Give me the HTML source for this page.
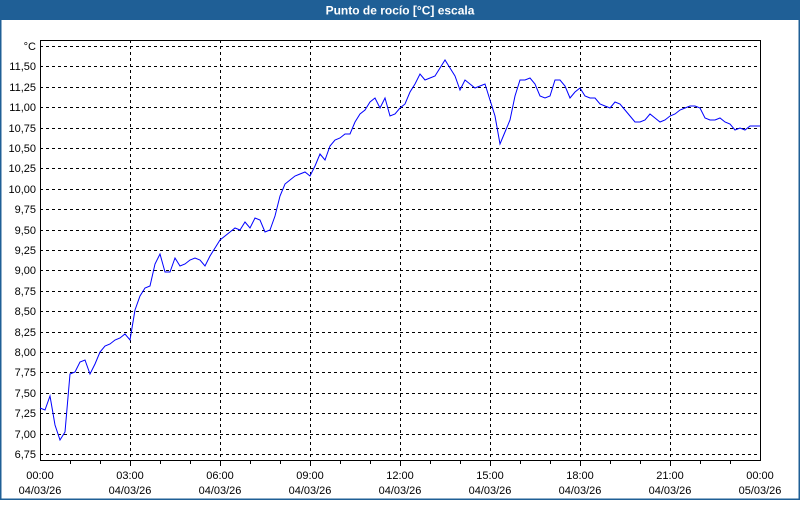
<!DOCTYPE html>
<html><head><style>
body{margin:0;width:800px;height:500px;overflow:hidden;background:#fff;font-family:"Liberation Sans","DejaVu Sans",sans-serif}
</style></head><body>
<svg width="800" height="500" xmlns="http://www.w3.org/2000/svg" font-family="Liberation Sans, DejaVu Sans, sans-serif" font-size="11">
<rect x="0" y="0" width="800" height="500" fill="#fff"/>
<rect x="0" y="0" width="800" height="20" fill="#1f5f96"/>
<rect x="0" y="0" width="1.5" height="500" fill="#1f5f96"/>
<rect x="798.5" y="0" width="1.5" height="500" fill="#1f5f96"/>
<rect x="0" y="498.5" width="800" height="1.5" fill="#1f5f96"/>
<text x="400" y="14.5" fill="#fff" font-weight="bold" font-size="12" text-anchor="middle">Punto de rocío [°C] escala</text>
<g stroke="#000" stroke-dasharray="3,3" stroke-width="1">
<line x1="40" y1="46.5" x2="760" y2="46.5"/>
<line x1="40" y1="66.5" x2="760" y2="66.5"/>
<line x1="40" y1="87.5" x2="760" y2="87.5"/>
<line x1="40" y1="107.5" x2="760" y2="107.5"/>
<line x1="40" y1="128.5" x2="760" y2="128.5"/>
<line x1="40" y1="148.5" x2="760" y2="148.5"/>
<line x1="40" y1="168.5" x2="760" y2="168.5"/>
<line x1="40" y1="189.5" x2="760" y2="189.5"/>
<line x1="40" y1="209.5" x2="760" y2="209.5"/>
<line x1="40" y1="230.5" x2="760" y2="230.5"/>
<line x1="40" y1="250.5" x2="760" y2="250.5"/>
<line x1="40" y1="270.5" x2="760" y2="270.5"/>
<line x1="40" y1="291.5" x2="760" y2="291.5"/>
<line x1="40" y1="311.5" x2="760" y2="311.5"/>
<line x1="40" y1="332.5" x2="760" y2="332.5"/>
<line x1="40" y1="352.5" x2="760" y2="352.5"/>
<line x1="40" y1="372.5" x2="760" y2="372.5"/>
<line x1="40" y1="393.5" x2="760" y2="393.5"/>
<line x1="40" y1="413.5" x2="760" y2="413.5"/>
<line x1="40" y1="434.5" x2="760" y2="434.5"/>
<line x1="40" y1="454.5" x2="760" y2="454.5"/>
<line x1="130.5" y1="40" x2="130.5" y2="460"/>
<line x1="220.5" y1="40" x2="220.5" y2="460"/>
<line x1="310.5" y1="40" x2="310.5" y2="460"/>
<line x1="400.5" y1="40" x2="400.5" y2="460"/>
<line x1="490.5" y1="40" x2="490.5" y2="460"/>
<line x1="580.5" y1="40" x2="580.5" y2="460"/>
<line x1="670.5" y1="40" x2="670.5" y2="460"/>
</g>
<rect x="40.5" y="40.5" width="720" height="420" fill="none" stroke="#000"/>
<g stroke="#000">
<line x1="70.5" y1="460" x2="70.5" y2="464"/><line x1="100.5" y1="460" x2="100.5" y2="464"/><line x1="130.5" y1="460" x2="130.5" y2="466"/>
<line x1="160.5" y1="460" x2="160.5" y2="464"/><line x1="190.5" y1="460" x2="190.5" y2="464"/><line x1="220.5" y1="460" x2="220.5" y2="466"/>
<line x1="250.5" y1="460" x2="250.5" y2="464"/><line x1="280.5" y1="460" x2="280.5" y2="464"/><line x1="310.5" y1="460" x2="310.5" y2="466"/>
<line x1="340.5" y1="460" x2="340.5" y2="464"/><line x1="370.5" y1="460" x2="370.5" y2="464"/><line x1="400.5" y1="460" x2="400.5" y2="466"/>
<line x1="430.5" y1="460" x2="430.5" y2="464"/><line x1="460.5" y1="460" x2="460.5" y2="464"/><line x1="490.5" y1="460" x2="490.5" y2="466"/>
<line x1="520.5" y1="460" x2="520.5" y2="464"/><line x1="550.5" y1="460" x2="550.5" y2="464"/><line x1="580.5" y1="460" x2="580.5" y2="466"/>
<line x1="610.5" y1="460" x2="610.5" y2="464"/><line x1="640.5" y1="460" x2="640.5" y2="464"/><line x1="670.5" y1="460" x2="670.5" y2="466"/>
<line x1="700.5" y1="460" x2="700.5" y2="464"/><line x1="730.5" y1="460" x2="730.5" y2="464"/>
</g>
<g text-anchor="end" fill="#000">
<text x="36" y="50">°C</text>
<text x="36" y="70">11,50</text><text x="36" y="91">11,25</text><text x="36" y="111">11,00</text><text x="36" y="132">10,75</text>
<text x="36" y="152">10,50</text><text x="36" y="172">10,25</text><text x="36" y="193">10,00</text><text x="36" y="213">9,75</text>
<text x="36" y="234">9,50</text><text x="36" y="254">9,25</text><text x="36" y="274">9,00</text><text x="36" y="295">8,75</text>
<text x="36" y="315">8,50</text><text x="36" y="336">8,25</text><text x="36" y="356">8,00</text><text x="36" y="376">7,75</text>
<text x="36" y="397">7,50</text><text x="36" y="417">7,25</text><text x="36" y="438">7,00</text><text x="36" y="458">6,75</text>
</g>
<g text-anchor="middle" fill="#000">
<text x="40" y="479">00:00</text><text x="40" y="494">04/03/26</text>
<text x="130" y="479">03:00</text><text x="130" y="494">04/03/26</text>
<text x="220" y="479">06:00</text><text x="220" y="494">04/03/26</text>
<text x="310" y="479">09:00</text><text x="310" y="494">04/03/26</text>
<text x="400" y="479">12:00</text><text x="400" y="494">04/03/26</text>
<text x="490" y="479">15:00</text><text x="490" y="494">04/03/26</text>
<text x="580" y="479">18:00</text><text x="580" y="494">04/03/26</text>
<text x="670" y="479">21:00</text><text x="670" y="494">04/03/26</text>
<text x="760" y="479">00:00</text><text x="760" y="494">05/03/26</text>
</g>
<polyline fill="none" stroke="#0000ff" stroke-width="1" points="40,408 45,410 50,396 55,425 60,440 65,432 70,374 75,372 80,362 85,360 90,374 95,364 100,352 105,346 110,344 115,340 120,338 125,334 130,340 135,310 140,296 145,288 150,286 155,264 160,254 165,272 170,272 175,258 180,266 185,264 190,260 195,258 200,260 205,266 210,256 215,248 220,240 225,236 230,232 235,228 240,230 245,222 250,228 255,218 260,220 265,232 270,230 275,216 280,196 285,184 290,180 295,176 300,174 305,172 310,176 315,166 320,154 325,160 330,146 335,140 340,138 345,134 350,134 355,122 360,114 365,110 370,102 375,98 380,108 385,98 390,116 395,114 400,108 405,104 410,92 415,84 420,74 425,80 430,78 435,76 440,68 445,60 450,68 455,76 460,90 465,80 470,84 475,88 480,86 485,84 490,100 495,116 500,144 505,132 510,120 515,96 520,80 525,80 530,78 535,84 540,96 545,98 550,96 555,80 560,80 565,86 570,98 575,92 580,88 585,96 590,98 595,98 600,104 605,106 610,108 615,102 620,104 625,110 630,116 635,122 640,122 645,120 650,114 655,118 660,122 665,120 670,116 675,114 680,110 685,108 690,106 695,106 700,108 705,118 710,120 715,120 720,118 725,122 730,124 735,130 740,128 745,130 750,126 755,126 760,126"/>
</svg>
</body></html>
